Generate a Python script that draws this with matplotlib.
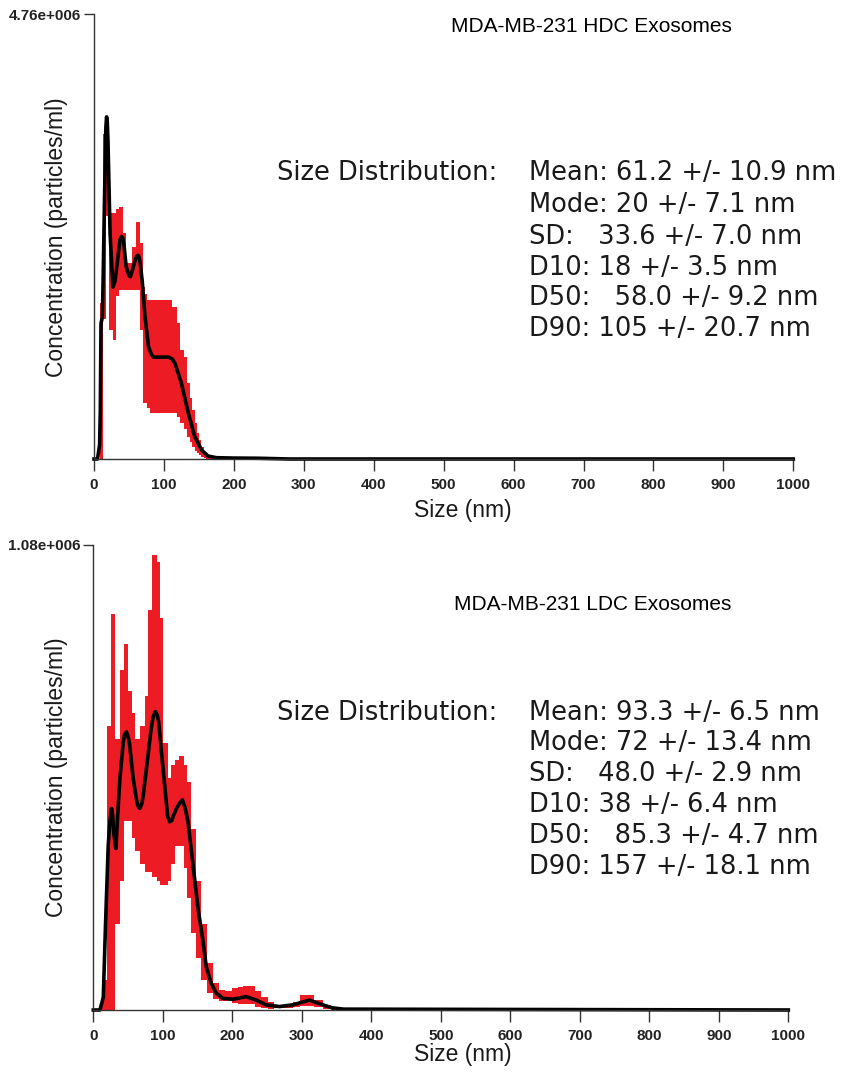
import matplotlib
matplotlib.use('Agg')
import matplotlib.pyplot as plt
import numpy as np

W, H = 843, 1074
RED = '#ED1C24'
SCALE = 1e6

# ---- HDC exosomes (top panel), concentration in 1e6 particles/ml ----
hdc_size = [0, 5, 8, 9, 10, 12, 13, 15, 17, 18, 19, 20, 23, 27, 30, 33, 37, 38.5, 40,
            41.5, 43, 46, 50, 52, 55, 59, 61, 63, 64.5, 66, 69, 73, 78, 82, 85, 95,
            106, 112, 116, 125, 135, 144, 154, 163, 175, 200, 235, 280, 1000]
hdc_mean = [0.0, 0.0, 0.15, 0.5, 1.45, 1.52, 1.9, 2.77, 3.55, 3.66, 3.60, 3.40, 2.41,
            1.84, 1.90, 2.08, 2.34, 2.37, 2.38, 2.36, 2.28, 2.06, 1.96, 1.95, 2.02,
            2.13, 2.17, 2.18, 2.16, 2.10, 1.90, 1.52, 1.20, 1.12, 1.09, 1.09, 1.09,
            1.07, 1.02, 0.81, 0.49, 0.24, 0.096, 0.032, 0.014, 0.01, 0.008, 0.0, 0.0]
hdc_edges = [8, 13, 17, 22, 27, 31, 36, 41, 46, 50, 55, 60, 66, 70, 73, 76, 80, 90,
             100, 111, 118, 123, 128, 133, 137, 140, 144, 147, 150, 153, 157, 160,
             165, 170]
hdc_upper = [1.67, 3.48, 3.34, 2.63, 2.63, 2.67, 2.70, 2.42, 2.10, 2.10, 2.27, 2.54,
             2.31, 1.84, 1.77, 1.70, 1.70, 1.70, 1.70, 1.63, 1.45, 1.17, 1.09, 0.81,
             0.65, 0.52, 0.38, 0.28, 0.20, 0.13, 0.08, 0.045, 0.02]
hdc_lower = [0.0, 1.5, 2.6, 1.38, 1.27, 1.74, 1.81, 1.81, 1.81, 1.81, 1.81, 1.81,
             1.38, 0.60, 0.60, 0.55, 0.49, 0.49, 0.49, 0.49, 0.45, 0.38, 0.32, 0.24,
             0.18, 0.13, 0.09, 0.06, 0.04, 0.02, 0.01, 0.0, 0.0]
hdc_stats = ['Mean: 61.2 +/- 10.9 nm', 'Mode: 20 +/- 7.1 nm', 'SD:   33.6 +/- 7.0 nm',
             'D10: 18 +/- 3.5 nm', 'D50:   58.0 +/- 9.2 nm', 'D90: 105 +/- 20.7 nm']

# ---- LDC exosomes (bottom panel) ----
ldc_size = [0, 9.6, 14.4, 17.7, 21.5, 24, 26.3, 28, 29.5, 32.5, 35, 38.3, 43, 45,
            47.8, 50, 52, 57.4, 62, 64, 67, 70, 72, 76.5, 83, 86, 89.4, 92, 94, 98,
            104, 107, 110, 113, 115, 119.6, 124, 128.2, 132, 136.3, 143.5, 150.7,
            157.9, 162.6, 169.8, 177, 186.6, 201, 220, 234.4, 248.8, 268, 287, 311,
            330, 344, 360, 1000]
ldc_mean = [0.0, 0.0, 0.03, 0.205, 0.383, 0.44, 0.468, 0.45, 0.41, 0.375, 0.45, 0.538,
            0.62, 0.64, 0.646, 0.635, 0.62, 0.538, 0.49, 0.475, 0.468, 0.48, 0.50,
            0.561, 0.65, 0.68, 0.693, 0.685, 0.67, 0.60, 0.50, 0.45, 0.437, 0.44,
            0.45, 0.468, 0.48, 0.488, 0.47, 0.437, 0.337, 0.236, 0.159, 0.10, 0.062,
            0.039, 0.027, 0.025, 0.031, 0.023, 0.012, 0.008, 0.012, 0.023, 0.012,
            0.005, 0.002, 0.0]
ldc_edges = [12, 19, 25, 31, 38, 44, 50, 55, 60, 67, 74, 79, 85, 91, 96, 100, 108,
             112, 117, 124, 130, 135, 141, 148, 155, 163, 172, 181, 190, 200, 208,
             215, 232, 241, 251, 260, 287, 297, 318, 330, 342, 350]
ldc_upper = [0.07, 0.66, 0.92, 0.63, 0.79, 0.85, 0.74, 0.69, 0.63, 0.66, 0.73, 0.93,
             1.057, 1.04, 0.91, 0.62, 0.54, 0.57, 0.58, 0.59, 0.57, 0.53, 0.42, 0.30,
             0.20, 0.11, 0.062, 0.047, 0.045, 0.050, 0.054, 0.056, 0.043, 0.031,
             0.019, 0.009, 0.019, 0.035, 0.023, 0.012, 0.005]
ldc_lower = [0.0, 0.0, 0.0, 0.20, 0.30, 0.44, 0.44, 0.40, 0.37, 0.34, 0.32, 0.32,
             0.31, 0.30, 0.29, 0.29, 0.30, 0.34, 0.38, 0.38, 0.33, 0.26, 0.18, 0.12,
             0.07, 0.04, 0.025, 0.022, 0.021, 0.016, 0.015, 0.013, 0.008, 0.004,
             0.002, 0.004, 0.006, 0.010, 0.006, 0.002, 0.0]
ldc_stats = ['Mean: 93.3 +/- 6.5 nm', 'Mode: 72 +/- 13.4 nm', 'SD:   48.0 +/- 2.9 nm',
             'D10: 38 +/- 6.4 nm', 'D50:   85.3 +/- 4.7 nm', 'D90: 157 +/- 18.1 nm']

x_ticks = [0, 100, 200, 300, 400, 500, 600, 700, 800, 900, 1000]


def fx(px):
    return px / W


def fy(py):
    return 1 - py / H


def draw_panel(ax, size, mean, edges, upper, lower, ymax, ylab):
    ax.stairs(np.array(upper) * SCALE, edges, baseline=np.array(lower) * SCALE,
              fill=True, color=RED, linewidth=0)
    ax.plot(size, np.array(mean) * SCALE, color='black', lw=2.6, clip_on=False,
            solid_joinstyle='round')
    ax.set_xlim(0, 1000)
    ax.set_ylim(0, ymax)
    ax.set_xticks(x_ticks)
    ax.set_xticklabels([str(t) for t in x_ticks])
    ax.set_yticks([ymax])
    ax.set_yticklabels([ylab])
    for s in ['top', 'right']:
        ax.spines[s].set_visible(False)
    for s in ['left', 'bottom']:
        ax.spines[s].set_color('#333333')
        ax.spines[s].set_linewidth(1.0)
    ax.tick_params(axis='x', length=8.5, width=1, color='#333333', pad=5,
                   labelsize=11, labelcolor='#222222')
    ax.tick_params(axis='y', length=7.5, width=1, color='#333333', pad=2,
                   labelsize=11, labelcolor='#222222')
    for lab in ax.get_xticklabels() + ax.get_yticklabels():
        lab.set_fontweight('bold')


plt.rcParams['font.family'] = ['Liberation Sans', 'DejaVu Sans']
fig = plt.figure(figsize=(W / 100, H / 100), dpi=100)

ax1 = fig.add_axes([fx(94), fy(459), fx(793.3 - 94), (459 - 14) / H])
draw_panel(ax1, hdc_size, hdc_mean, hdc_edges, hdc_upper, hdc_lower,
           4.76e6, '4.76e+006')

ax2 = fig.add_axes([fx(93.3), fy(1010), fx(788.3 - 93.3), (1010 - 545) / H])
draw_panel(ax2, ldc_size, ldc_mean, ldc_edges, ldc_upper, ldc_lower,
           1.08e6, '1.08e+006')

txt = '#1a1a1a'
for yc in [237, 777]:
    fig.text(fx(57), fy(yc), 'Concentration (particles/ml)', rotation=90,
             ha='center', va='center', fontsize=16.5, color=txt)
for yc in [510, 1055]:
    fig.text(fx(463), fy(yc), 'Size (nm)', ha='center', va='center',
             fontsize=16.5, color=txt)

fig.text(fx(591), fy(27), 'MDA-MB-231 HDC Exosomes', ha='center', va='center',
         fontsize=15, color='black')
fig.text(fx(593), fy(604), 'MDA-MB-231 LDC Exosomes', ha='center', va='center',
         fontsize=15, color='black')

for ys, stats in [([173, 205, 237, 268, 298, 329], hdc_stats),
                  ([713, 743, 774, 805, 836, 867], ldc_stats)]:
    fig.text(fx(497), fy(ys[0]), 'Size Distribution:', ha='right', va='center',
             fontsize=18.5, color=txt, family='DejaVu Sans')
    for yc, s in zip(ys, stats):
        fig.text(fx(529), fy(yc), s, ha='left', va='center', fontsize=18.5,
                 color=txt, family='DejaVu Sans')

fig.savefig('out.png', dpi=100)
